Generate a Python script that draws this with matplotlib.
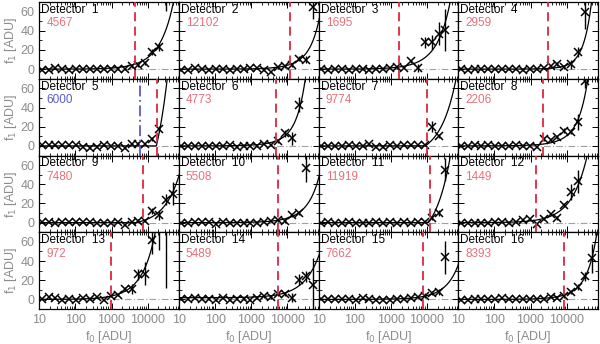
import numpy as np
import matplotlib
matplotlib.use('Agg')
import matplotlib.pyplot as plt
from matplotlib.ticker import FixedLocator, MultipleLocator, LogLocator, NullFormatter

plt.rcParams['font.family'] = ['Liberation Sans', 'DejaVu Sans']

nan = np.nan

# common f0 sampling (ADU)
f0_grid = [11.6, 18.1, 28.1, 43.6, 67.8, 105, 164, 255, 396, 615, 957, 1490,
           2310, 3590, 5580, 8690, 13500, 21000, 32600, 50700]

det1_f1 = [-1, -1, 1, 0.5, -0.5, 0, 0.5, 0.5, 0, 0, 0, 0, 0.5, 3, 4.5, 6, 18, 23, 85, nan]
det1_err = [1, 1, 1, 1, 1, 1, 1, 1, 1, 1, 1, 1, 1, 1.5, 2, 2, 3, 4, 24, nan]
det2_f1 = [-1, -0.5, 1, 0, -0.5, 0.5, 0, -0.5, 0, 0.5, 1, 1, -0.5, -3, 2, 3, 4.5, 11, 10, 65]
det2_err = [1, 1, 1, 1, 1, 1, 1, 1, 1, 1, 1, 1, 1, 1.5, 1.5, 1.5, 2, 3, 4, 13]
det3_f1 = [0, -0.5, 0.5, 0, -1, 0, 0, -0.5, 0.5, 0.5, 1, 2, 1.5, 8, 1, 28, 28, 37, 41, nan]
det3_err = [1, 1, 1, 1, 1, 1, 1, 1, 1, 1, 1, 1.5, 1.5, 2, 4, 6, 8, 12, 22, nan]
det4_f1 = [0, -0.5, 0, 0, 0.5, 0.5, 0, 0.5, 0, -0.5, 0, 0.5, 1.5, 3, 5, 2, 5, 18, 60, nan]
det4_err = [1, 1, 1, 1, 1, 1, 1, 1, 1, 1, 1, 1, 1, 1.5, 2, 2, 5, 5, 18, nan]
det5_f1 = [0.5, 0.5, 0.5, 0.5, 1, 1, -1, -2, -1.5, 0.5, 0, 0, -2, 2, 2.5, 2, 7, 18, nan, nan]
det5_err = [1, 1, 1, 1, 1, 1, 1, 1, 1, 1, 1, 1, 1, 1.5, 1.5, 1.5, 2, 3, nan, nan]
det6_f1 = [0, -0.5, -0.5, 0, 0, -0.5, 0, 1, -1, -0.5, -0.5, -0.5, 1.5, 0.5, 5, 13, 8, 43, nan, nan]
det6_err = [1, 1, 1, 1, 1, 1, 1, 1, 1, 1, 1, 1, 1, 1, 1.5, 4, 7, 8, nan, nan]
det7_f1 = [-0.5, -0.5, 0, 0, 0.5, 0, 0, 1.5, -1, -1, 1, 0, 0.5, 0.5, 0.5, 1, 20, 10, nan, nan]
det7_err = [1, 1, 1, 1, 1, 1, 1, 1, 1, 1, 1, 1, 1, 1, 1, 1, 6, 2, nan, nan]
det8_f1 = [-0.5, 0, 0.5, 0, 1, -0.5, 0, -0.5, 1, 0, -0.5, -1, 7, 6.4, 9, 16, 15, 25, 68, nan]
det8_err = [1, 1, 1, 1, 1, 1, 1, 1, 1, 1, 1, 1, 2, 2, 2, 3, 3, 8, 8, nan]
det9_f1 = [0.5, 0.5, 0, 1, 1, 0.5, 1, 0.5, -0.5, 0, 0, 0.5, -2.5, 0.5, 2, 2, 12, 8, 24, 30]
det9_err = [1, 1, 1, 1, 1, 1, 1, 1, 1, 1, 1, 1, 1, 1, 1.5, 1.5, 3, 5, 6, 12]
det10_f1 = [0, -0.5, 0.5, 0.5, 1, -1, 0.5, 0, -0.5, 0, 0, 0, 1, 1.5, 2.5, 1.5, 8, 10.5, 57, nan]
det10_err = [1, 1, 1, 1, 1, 1, 1, 1, 1, 1, 1, 1, 1, 1, 1.5, 2, 2, 2, 15, nan]
det11_f1 = [-0.5, 0.5, 0, 0, 0.5, 0, -0.5, 0, 0.5, 0, 0.5, 0, 1, 0, 0.5, 1, 5, 10, 55, nan]
det11_err = [1, 1, 1, 1, 1, 1, 1, 1, 1, 1, 1, 1, 1, 1, 1, 1.5, 2, 3, 12, nan]
det12_f1 = [0, -0.5, -0.5, 0, -0.5, 0.5, 1, -0.5, 0.5, 3, 3.5, -1, 3.5, 9, 5, 18, 32, 43, nan, nan]
det12_err = [1, 1, 1, 1, 1, 1, 1, 1, 1, 1, 1, 1, 1, 1.5, 2, 2, 8, 12, nan, nan]
det13_f1 = [0.7, 2.7, 1.7, -0.7, 0, -1, 1, 0.7, 2.4, -0.7, 4, 5, 11, 11, 26, 27, 62, 80, 75, nan]
det13_err = [1, 1, 1, 1, 1, 1, 1, 1, 1, 1, 1.5, 1.5, 2, 5, 6, 12, 15, 28, 63, nan]
det14_f1 = [0, 0.5, 1, 0, 0, -0.5, 1.5, -0.5, 0.5, 0, -1, 1, 3.5, 2.3, 6, 6, 2, 20.6, 24, 15]
det14_err = [1, 1, 1, 1, 1, 1, 1, 1, 1, 1, 1, 1, 1.5, 1.5, 2, 2, 5, 6, 6, 28]
det15_f1 = [0, 0, 0, 0.5, 0, -0.5, 1, 0, -0.5, -1, -0.5, 0.5, 0, 1, 2.5, 4, 7, 8, 44, nan]
det15_err = [1, 1, 1, 1, 1, 1, 1, 1, 1, 1, 1, 1, 1, 1, 1.5, 3, 2, 3, 17, nan]
det16_f1 = [-0.5, -0.5, 0, 0, 0.5, 0.5, 1, 0, 0.5, 0, 0.5, 0, 0, 2.8, 1.7, 4, 7.6, 13, 24, 43]
det16_err = [1, 1, 1, 1, 1, 1, 1, 1, 1, 1, 1, 1, 1, 1.5, 1.5, 2, 2, 3, 5, 15]

det_f1 = [det1_f1, det2_f1, det3_f1, det4_f1, det5_f1, det6_f1, det7_f1, det8_f1,
          det9_f1, det10_f1, det11_f1, det12_f1, det13_f1, det14_f1, det15_f1, det16_f1]
det_err = [det1_err, det2_err, det3_err, det4_err, det5_err, det6_err, det7_err, det8_err,
           det9_err, det10_err, det11_err, det12_err, det13_err, det14_err, det15_err, det16_err]

thresholds = [4567, 12102, 1695, 2959, 6000, 4773, 9774, 2206,
              7480, 5508, 11919, 1449, 972, 5489, 7662, 8393]
det5_red_line = 18000

# fitted curve f1 = c + a*d + b*d^2, d = max(f0 - off, 0)
curve_c = [0, 0, 0, 0, 0, 0, 0, 0, 0, 0, 0, 0, 0, 1.8, 0, 0]
curve_a = [1.165e-3, 3.6e-4, 1.31e-3, 1.6e-4, 4.0e-3, 8.4e-4, 1.27e-3, 8e-4,
           7.06e-4, 4.45e-4, 2.07e-3, 1.88e-3, 3.5e-3, 5.86e-4, 3.8e-4, 4.7e-4]
curve_b = [3.47e-9, 4.2e-9, 6.5e-9, 2.59e-8, 0, 4.35e-8, 0, 2.6e-8,
           0, 2.5e-9, 0, 0, 4.8e-8, 0, 1.5e-9, 7.8e-9]
curve_off = [0, 0, 0, 0, 17500, 0, 9000, 0, 4650, 0, 11000, 0, 0, 0, 0, 0]

RED = '#dc2840'
PINK = '#e8707c'
BLUE = '#5a5ad0'
GRAY = '#8c8c8c'

fig = plt.figure(figsize=(6, 3.44), dpi=100)
gs = fig.add_gridspec(4, 4, left=0.0655, right=0.9967, top=0.9942, bottom=0.1017,
                      wspace=0, hspace=0)

xx = np.logspace(1, np.log10(80000), 600)
f0 = np.array(f0_grid)

for k in range(16):
    r, c = divmod(k, 4)
    ax = fig.add_subplot(gs[r, c])
    ax.set_xscale('log')
    ax.set_xlim(10, 74000)
    ax.set_ylim(-10, 70)

    ax.axhline(0, color='#a0a0a0', lw=0.8, ls=(0, (6, 2, 1, 2)), zorder=1)

    d = np.clip(xx - curve_off[k], 0, None)
    yy = curve_c[k] + curve_a[k] * d + curve_b[k] * d ** 2
    ax.plot(xx, yy, color='k', lw=0.9, zorder=3)

    y = np.array(det_f1[k], dtype=float)
    e = np.array(det_err[k], dtype=float)
    ax.errorbar(f0, y, yerr=e, fmt='x', color='k', ms=5.5, mew=1.1,
                elinewidth=1.0, capsize=0, zorder=4)

    if k == 4:
        ax.axvline(thresholds[k], color=BLUE, lw=1.3, ls=(0, (6, 2, 1, 2)), zorder=5)
        ax.axvline(det5_red_line, color=RED, lw=1.3, ls=(0, (5, 3)), zorder=5)
        numcol = BLUE
    else:
        ax.axvline(thresholds[k], color=RED, lw=1.3, ls=(0, (5, 3)), zorder=5)
        numcol = PINK

    ax.text(0.015, 0.975, 'Detector  %d' % (k + 1), transform=ax.transAxes,
            ha='left', va='top', fontsize=8.5, color='k', zorder=6)
    ax.text(0.05, 0.80, '%d' % thresholds[k], transform=ax.transAxes,
            ha='left', va='top', fontsize=8.5, color=numcol, zorder=6)

    ax.xaxis.set_major_locator(FixedLocator([10, 100, 1000, 10000]))
    ax.xaxis.set_minor_locator(LogLocator(base=10, subs=np.arange(2, 10), numticks=20))
    ax.xaxis.set_minor_formatter(NullFormatter())
    ax.yaxis.set_major_locator(FixedLocator([0, 20, 40, 60]))
    ax.yaxis.set_minor_locator(MultipleLocator(10))
    ax.tick_params(which='both', direction='in', top=True, right=True,
                   labelsize=9, labelcolor=GRAY, color='k')
    ax.tick_params(which='major', length=4, width=0.7)
    ax.tick_params(which='minor', length=2, width=0.6)
    for s in ax.spines.values():
        s.set_linewidth(0.9)

    if c == 0:
        ax.set_ylabel('f$_1$ [ADU]', color=GRAY, fontsize=9, labelpad=1)
    else:
        ax.set_yticklabels([])
    if r == 3:
        ax.set_xticklabels(['10', '100', '1000', '10000'])
        ax.set_xlabel('f$_0$ [ADU]', color=GRAY, fontsize=9, labelpad=2)
    else:
        ax.set_xticklabels([])

fig.savefig('out.png', dpi=100)
